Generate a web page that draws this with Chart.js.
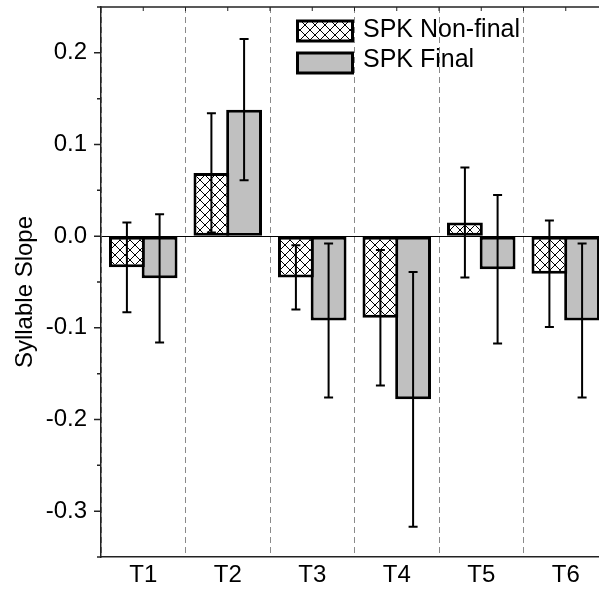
<!DOCTYPE html>
<html>
<head>
<meta charset="utf-8">
<script src="https://cdn.jsdelivr.net/npm/chart.js@4/dist/chart.umd.min.js"></script>
<style>
  html, body { margin: 0; padding: 0; background: #fff; overflow: hidden; }
  #wrap { width: 599px; height: 593px; overflow: hidden; position: relative; }
  canvas { display: block; }
</style>
</head>
<body>
<div id="wrap"><canvas id="chart" width="608" height="593"></canvas></div>
<script>
// Tone categories
const categories = ['T1', 'T2', 'T3', 'T4', 'T5', 'T6'];

// Mean syllable slope and error (± half-length of error bar)
const nonFinalMean = [-0.034, 0.069, -0.045, -0.089, 0.015, -0.041];
const nonFinalErr  = [0.049, 0.065, 0.035, 0.074, 0.060, 0.058];
const finalMean    = [-0.046, 0.138, -0.092, -0.178, -0.036, -0.092];
const finalErr     = [0.070, 0.077, 0.084, 0.139, 0.081, 0.084];

const seriesLabels = ['SPK Non-final', 'SPK Final'];
const yTitle = 'Syllable Slope';

const FONT = "'Liberation Sans', Arial, Helvetica, sans-serif";
Chart.defaults.font.family = FONT;
Chart.defaults.color = '#000';

// White tile with a black diagonal cross-hatch
function crossHatch() {
  const s = 10;
  const c = document.createElement('canvas');
  c.width = s; c.height = s;
  const g = c.getContext('2d');
  g.fillStyle = '#fff';
  g.fillRect(0, 0, s, s);
  g.strokeStyle = '#000';
  g.lineWidth = 1;
  g.beginPath();
  g.moveTo(-1, -1); g.lineTo(s + 1, s + 1);
  g.moveTo(s + 1, -1); g.lineTo(-1, s + 1);
  g.stroke();
  return g.createPattern(c, 'repeat');
}
const hatch = crossHatch();

// Vertical error bars centred on each bar
const errorBars = {
  id: 'errorBars',
  afterDatasetsDraw(chart) {
    const { ctx } = chart;
    const y = chart.scales.y;
    const cap = 4.5;
    ctx.save();
    ctx.strokeStyle = '#000';
    ctx.lineWidth = 2;
    chart.data.datasets.forEach((ds, di) => {
      const meta = chart.getDatasetMeta(di);
      meta.data.forEach((bar, i) => {
        const m = ds.data[i], e = ds.errors[i];
        const yHi = y.getPixelForValue(m + e);
        const yLo = y.getPixelForValue(m - e);
        const x = bar.x;
        ctx.beginPath();
        ctx.moveTo(x, yHi); ctx.lineTo(x, yLo);
        ctx.moveTo(x - cap, yHi); ctx.lineTo(x + cap, yHi);
        ctx.moveTo(x - cap, yLo); ctx.lineTo(x + cap, yLo);
        ctx.stroke();
      });
    });
    ctx.restore();
  }
};

// Frame details: top border, top tick marks, major/minor y ticks, axis title, legend
const frame = {
  id: 'frame',
  afterDraw(chart) {
    const { ctx, chartArea: a } = chart;
    const x = chart.scales.x, y = chart.scales.y;
    ctx.save();
    ctx.strokeStyle = '#222';
    ctx.lineWidth = 1.5;

    // top border
    ctx.beginPath();
    ctx.moveTo(a.left, a.top);
    ctx.lineTo(a.right, a.top);
    ctx.stroke();

    // small inward ticks along the top, at category centres and edges
    const half = (x.getPixelForValue(1) - x.getPixelForValue(0)) / 2;
    ctx.lineWidth = 1;
    ctx.beginPath();
    categories.forEach((_, i) => {
      const c = x.getPixelForValue(i);
      [c, c + half].forEach(px => {
        ctx.moveTo(px, a.top);
        ctx.lineTo(px, a.top + 4);
      });
    });
    ctx.stroke();

    // outward y ticks: long on labelled values, short between
    ctx.lineWidth = 1.5;
    ctx.beginPath();
    y.ticks.forEach(t => {
      const py = y.getPixelForValue(t.value);
      const major = Math.round(t.value * 100) % 10 === 0;
      const len = major ? 7 : 4;
      ctx.moveTo(a.left - len, py);
      ctx.lineTo(a.left, py);
    });
    ctx.stroke();

    // y-axis title
    ctx.save();
    ctx.translate(25, 292);
    ctx.rotate(-Math.PI / 2);
    ctx.fillStyle = '#000';
    ctx.font = '24px ' + FONT;
    ctx.textAlign = 'center';
    ctx.textBaseline = 'middle';
    ctx.fillText(yTitle, 0, 0);
    ctx.restore();

    // legend
    const boxX = 296, boxW = 58, boxH = 23;
    const rows = [19.5, 51.5];
    const textY = [30, 60];
    chart.data.datasets.forEach((ds, i) => {
      const by = rows[i];
      ctx.fillStyle = '#000';
      ctx.fillRect(boxX, by, boxW, boxH);
      ctx.fillStyle = ds.backgroundColor;
      ctx.fillRect(boxX + 3, by + 3, boxW - 6, boxH - 6);
      ctx.fillStyle = '#000';
      ctx.font = '25px ' + FONT;
      ctx.textAlign = 'left';
      ctx.textBaseline = 'middle';
      ctx.fillText(ds.label, 363, textY[i]);
    });
    ctx.restore();
  }
};

new Chart(document.getElementById('chart'), {
  type: 'bar',
  data: {
    labels: categories,
    datasets: [
      {
        label: seriesLabels[0],
        data: nonFinalMean,
        errors: nonFinalErr,
        backgroundColor: hatch,
        borderColor: '#000',
        borderWidth: 3,
        borderSkipped: false
      },
      {
        label: seriesLabels[1],
        data: finalMean,
        errors: finalErr,
        backgroundColor: '#c0c0c0',
        borderColor: '#000',
        borderWidth: 3,
        borderSkipped: false
      }
    ]
  },
  options: {
    responsive: false,
    animation: false,
    datasets: { bar: { categoryPercentage: 0.7737, barPercentage: 1.0965 } },
    layout: { padding: { top: 7, left: 0, right: 0, bottom: 0 } },
    plugins: { legend: { display: false }, tooltip: { enabled: false } },
    scales: {
      x: {
        offset: true,
        grid: { offset: true, display: true, drawOnChartArea: true, drawTicks: false, color: '#8a8a8a', lineWidth: 1 },
        border: { display: true, color: '#222', width: 1.5, dash: [6, 4] },
        ticks: { color: '#000', font: { size: 24 }, padding: 4 },
        afterFit(s) { s.height = 36; s.paddingLeft = 0; s.paddingRight = 0; }
      },
      y: {
        min: -0.35,
        max: 0.25,
        grid: {
          drawTicks: false,
          lineWidth: 1,
          color: c => (c.tick && Math.abs(c.tick.value) < 1e-9) ? '#000' : 'rgba(0,0,0,0)'
        },
        border: { display: true, color: '#222', width: 1.5 },
        ticks: {
          stepSize: 0.05,
          autoSkip: false,
          padding: 14,
          color: '#000',
          font: { size: 24 },
          callback: v => {
            const k = Math.round(v * 100);
            return k % 10 === 0 ? (k / 100).toFixed(1) : '';
          }
        },
        afterFit(s) { s.width = 101; s.paddingTop = 0; s.paddingBottom = 0; }
      }
    }
  },
  plugins: [errorBars, frame]
});
</script>
</body>
</html>
